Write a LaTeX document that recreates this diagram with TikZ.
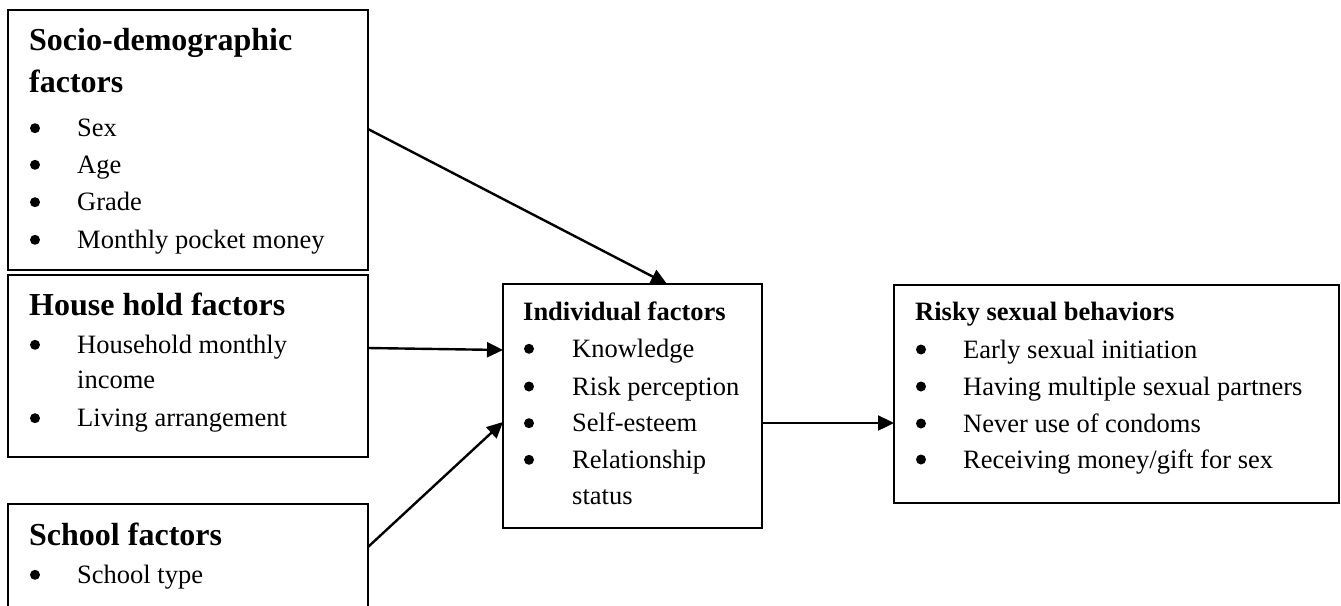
\documentclass[tikz,border=0pt]{standalone}
\usepackage{fontspec}
\setmainfont{Liberation Serif}
\usetikzlibrary{arrows.meta,calc}
\begin{document}
\begin{tikzpicture}[x=1pt,y=-1pt,
  box/.style={draw, line width=2pt, anchor=north west, inner sep=0pt, outer sep=0pt},
  big/.style={anchor=base west, inner sep=0pt, font=\fontsize{32}{36}\selectfont\bfseries},
  head/.style={anchor=base west, inner sep=0pt, font=\fontsize{26.5}{30}\selectfont\bfseries},
  item/.style={anchor=base west, inner sep=0pt, font=\fontsize{26.5}{30}\selectfont},
  dot/.style={fill=black},
  conn/.style={line width=2.4pt, -{Triangle[length=16pt,width=15pt]}}]
\useasboundingbox (0,0) rectangle (1341,605);
\clip (0,0) rectangle (1341,605);
% boxes
\node[box, minimum width=360pt, minimum height=260pt] (soc) at (8,10) {};
\node[box, minimum width=360pt, minimum height=182pt] (hh) at (8,275) {};
\node[box, minimum width=360pt, minimum height=150pt] (sch) at (8,504) {};
\node[box, minimum width=259pt, minimum height=244pt] (ind) at (503,284) {};
\node[box, minimum width=445pt, minimum height=218pt] (risk) at (894,285) {};
% socio-demographic
\node[big] (s0) at (29,50) {Socio-demographic};
\node[big] (s1) at (29,92) {factors};
\node[item] (s2) at (77,136.7) {Sex};
\node[item] (s3) at (77,173.3) {Age};
\node[item] (s4) at (77,210.7) {Grade};
\node[item] (s5) at (77,248.3) {Monthly pocket money};
\foreach \yy in {136.7,173.3,210.7,248.3} \fill[dot] (35,\yy-8.5) circle (5pt);
% household
\node[big] (h0) at (29,315) {House hold factors};
\node[item] (h1) at (77,353.3) {Household monthly};
\node[item] (h2) at (77,388.3) {income};
\node[item] (h3) at (77,426.7) {Living arrangement};
\foreach \yy in {353.3,426.7} \fill[dot] (35,\yy-8.5) circle (5pt);
% school
\node[big] (c0) at (29,545) {School factors};
\node[item] (c1) at (77,583.3) {School type};
\fill[dot] (35,583.3-8.5) circle (5pt);
% individual
\node[head] (i0) at (523,320.7) {Individual factors};
\node[item] (i1) at (572,357.3) {Knowledge};
\node[item] (i2) at (572,395) {Risk perception};
\node[item] (i3) at (572,431.7) {Self-esteem};
\node[item] (i4) at (572,468.3) {Relationship};
\node[item] (i5) at (572,504) {status};
\foreach \yy in {357.3,395,431.7,468.3} \fill[dot] (529,\yy-8.5) circle (5pt);
% risky
\node[head] (r0) at (915,320) {Risky sexual behaviors};
\node[item] (r1) at (963,358) {Early sexual initiation};
\node[item] (r2) at (963,395) {Having multiple sexual partners};
\node[item] (r3) at (963,432) {Never use of condoms};
\node[item] (r4) at (963,468) {Receiving money/gift for sex};
\foreach \yy in {358,395,432,468} \fill[dot] (921,\yy-8.5) circle (5pt);
% connectors
\draw[conn] ($(soc.north east)+(0,119)$) -- ($(ind.north west)+(164,0)$);
\draw[conn] ($(hh.north east)+(0,73)$) -- ($(ind.north west)+(0,66)$);
\draw[conn] ($(sch.north east)+(0,43)$) -- ($(ind.north west)+(0,138)$);
\draw[conn] ($(ind.north east)+(0,139)$) -- ($(risk.north west)+(0,138)$);
\end{tikzpicture}
\end{document}
